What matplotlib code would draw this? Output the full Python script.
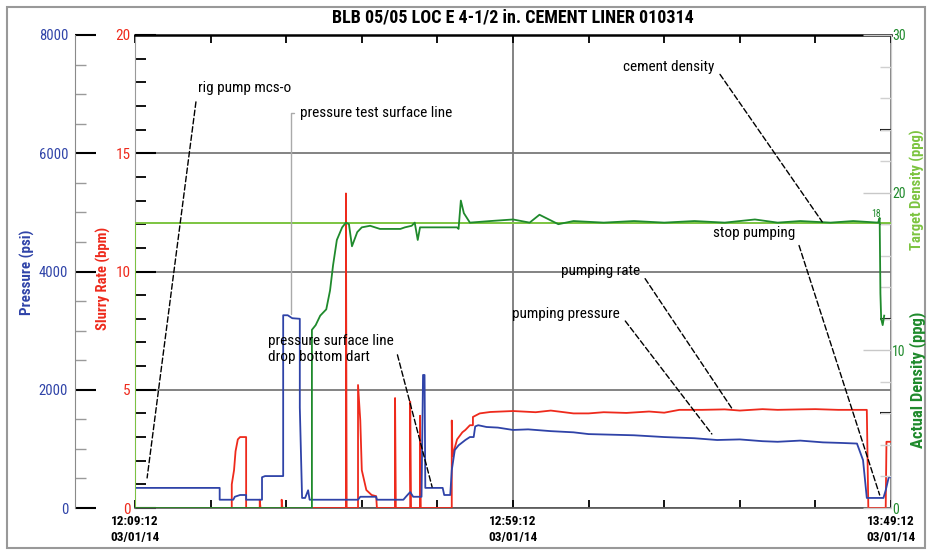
import matplotlib
matplotlib.use("Agg")
import matplotlib.pyplot as plt
from matplotlib import font_manager
from matplotlib.patches import Rectangle

# pick a narrow face if one is there
installed = {f.name for f in font_manager.fontManager.ttflist}
narrow = [n for n in ['Liberation Sans Narrow', 'DejaVu Sans Condensed', 'Roboto Condensed',
                      'Open Sans Condensed'] if n in installed]
plt.rcParams['font.family'] = narrow + ['Liberation Sans', 'DejaVu Sans']

# time in minutes from 12:09:12
pres_t = [0, 11.2, 11.2, 13.0, 13.2, 13.9, 14.7, 14.7, 16.8, 16.8,
          17.2, 19.6, 19.6, 20.2, 20.8, 21.8, 21.8, 22.1, 22.5, 22.9,
          23.1, 29.5, 29.8, 31.9, 32.0, 35.5, 35.9, 36.4, 36.8, 37.9,
          38.1, 38.3, 38.4, 40.7, 40.9, 41.7, 41.9, 42.3, 42.8, 43.7,
          44.3, 44.8, 45.0, 45.4, 46.5, 48.0, 50.0, 52.0, 55.0, 58.0,
          60.0, 63.0, 66.0, 70.0, 74.0, 77.0, 80.0, 83.0, 85.0, 88.0,
          91.0, 93.5, 95.5, 96.3, 96.8, 97.0, 99.0, 99.3, 99.7, 100.0]
pres = [340, 340, 140, 140, 190, 220, 220, 140, 140, 520,
        540, 540, 3260, 3260, 3210, 3200, 1700, 170, 170, 300,
        140, 140, 190, 190, 140, 140, 200, 270, 190, 190,
        2250, 2250, 340, 340, 220, 220, 640, 980, 1060, 1150,
        1200, 1200, 1380, 1400, 1370, 1360, 1320, 1330, 1300, 1280,
        1250, 1240, 1230, 1200, 1180, 1150, 1160, 1130, 1120, 1140,
        1110, 1100, 1090, 810, 170, 170, 170, 300, 520, 520]

rate_t = [0, 12.8, 12.8, 13.1, 13.3, 13.6, 13.9, 14.7, 14.7, 16.5,
          16.5, 16.6, 19.4, 19.4, 19.5, 27.9, 27.9, 28.0, 29.5, 29.5,
          29.8, 30.0, 30.6, 31.3, 31.9, 32.0, 34.4, 34.4, 34.5, 36.4,
          36.4, 36.5, 37.7, 37.7, 37.8, 41.9, 41.9, 42.0, 42.6, 43.3,
          43.7, 44.3, 44.7, 44.7, 45.6, 47.0, 50.0, 53.0, 55.0, 58.0,
          60.0, 62.0, 65.0, 68.0, 70.0, 72.0, 75.0, 78.0, 80.0, 83.0,
          85.0, 88.0, 90.0, 93.0, 96.8, 97.0, 99.3, 99.4, 100.0]
rate = [0, 0, 1.0, 1.6, 2.4, 2.9, 3.0, 3.0, 0, 0,
        0.35, 0, 0, 0.35, 0, 0, 13.3, 0, 0, 5.2,
        3.7, 1.6, 0.76, 0.55, 0.5, 0, 0, 4.65, 0, 0,
        4.5, 0, 0, 3.9, 0, 0, 3.7, 2.2, 2.9, 3.2,
        3.3, 3.5, 3.5, 3.85, 4.0, 4.06, 4.1, 4.05, 4.12, 4.0,
        4.0, 4.05, 4.02, 4.08, 4.03, 4.15, 4.15, 4.17, 4.12, 4.18,
        4.15, 4.17, 4.18, 4.15, 4.15, 0, 0, 2.8, 2.8]

dens_t = [0, 23.4, 23.4, 23.9, 24.5, 25.3, 25.8, 26.2, 26.7, 27.4,
          27.9, 28.3, 28.7, 29.4, 30.0, 31.1, 32.4, 35.1, 35.7, 36.6,
          37.0, 37.4, 37.7, 42.6, 42.8, 43.1, 43.5, 44.3, 47.0, 50.0,
          52.2, 53.5, 56.0, 58.0, 62.0, 66.0, 70.0, 74.0, 78.0, 82.0,
          85.0, 88.0, 92.0, 95.0, 98.3, 98.5, 98.6, 98.7, 98.9, 99.1]
dens = [0, 0, 11.3, 11.6, 12.2, 12.6, 13.8, 15.4, 17.0, 17.8,
        18.1, 18.0, 16.6, 17.5, 17.8, 17.9, 17.7, 17.7, 17.8, 17.9,
        18.1, 17.0, 17.8, 17.8, 17.7, 19.5, 18.7, 18.1, 18.2, 18.3,
        18.1, 18.6, 18.0, 18.2, 18.1, 18.2, 18.1, 18.2, 18.1, 18.3,
        18.1, 18.2, 18.1, 18.2, 18.1, 18.4, 13.6, 12.0, 11.6, 12.2]

targ_t = [0, 0, 100]
targ = [0, 18.1, 18.1]

time_labels = ['12:09:12\n03/01/14', '12:59:12\n03/01/14', '13:49:12\n03/01/14']

BLUE = '#2f43a8'
RED = '#ee2a1c'
LGREEN = '#7cc440'
DGREEN = '#1f8a2c'

W, H = 931, 552
fig = plt.figure(figsize=(W / 100, H / 100), dpi=100)
L, R, T, B = 135, 891, 35, 508
ax = fig.add_axes([L / W, 1 - B / H, (R - L) / W, (B - T) / H])

# slurry rate axis (main)
ax.set_xlim(0, 100)
ax.set_ylim(0, 20)
ax.set_yticks([0, 5, 10, 15, 20])
ax.set_yticks(range(0, 21), minor=True)
ax.tick_params(axis='y', which='major', direction='in', length=15, width=1.5,
               colors='black', labelcolor=RED, labelsize=11, pad=3)
ax.tick_params(axis='y', which='minor', direction='in', length=8, width=1.3, color='black')
ax.set_xticks([0, 50, 100])
ax.set_xticklabels(time_labels, linespacing=1.3)
ax.set_xticks(range(0, 101, 10), minor=True)
ax.tick_params(axis='x', which='both', direction='in', top=True, bottom=True,
               length=6, width=1.3, labelsize=9.5, pad=5)
for lab in ax.get_xticklabels():
    lab.set_fontweight('bold')
ax.grid(axis='y', which='major', color='#7a7a7a', lw=1.3)
ax.grid(axis='x', which='major', color='#7a7a7a', lw=1.3)
ax.set_axisbelow(True)
ax.spines['top'].set_linewidth(1.8)
ax.spines['bottom'].set_linewidth(1.2)
ax.spines['bottom'].set_color('#555555')
ax.spines['left'].set_color('#999999')
ax.spines['right'].set_color('#cccccc')
ax.plot(rate_t, rate, color=RED, lw=1.3, zorder=4)

# pressure axis, offset on the left
axp = ax.twinx()
axp.set_ylim(0, 8000)
axp.yaxis.set_ticks_position('left')
axp.spines['left'].set_position(('axes', -60 / (R - L)))
axp.spines['left'].set_visible(True)
axp.spines['left'].set_color('#8a8a8a')
for s in ['right', 'top', 'bottom']:
    axp.spines[s].set_visible(False)
axp.set_yticks(range(0, 8001, 2000))
axp.set_yticks(range(0, 8001, 500), minor=True)
axp.tick_params(axis='y', which='major', direction='in', length=15, width=1.5,
                colors='black', labelcolor=BLUE, labelsize=10.5, pad=5)
axp.tick_params(axis='y', which='minor', direction='in', length=8, width=1.0, color='#9a9a9a')
axp.plot(pres_t, pres, color=BLUE, lw=1.3, zorder=3)

# actual density axis (black ticks only)
axa = ax.twinx()
axa.set_ylim(0, 30)
for s in ['left', 'top', 'bottom', 'right']:
    axa.spines[s].set_visible(False)
axa.set_yticks([6, 12, 18, 24])
axa.tick_params(axis='y', direction='in', length=8, width=1.5, color='black', labelright=False)

# target density axis (right)
axd = ax.twinx()
axd.set_ylim(0, 30)
for s in ['left', 'top', 'bottom']:
    axd.spines[s].set_visible(False)
axd.spines['right'].set_color('#cccccc')
axd.set_yticks([0, 10, 20, 30])
axd.set_yticks(range(0, 31, 2), minor=True)
axd.tick_params(axis='y', which='major', direction='in', length=20, width=1.0,
                color='#c8c8c8', labelcolor=DGREEN, labelsize=10, pad=1)
axd.tick_params(axis='y', which='minor', direction='in', length=8, width=1.0, color='#d0d0d0')
axd.plot(targ_t, targ, color=LGREEN, lw=1.4, zorder=2)
axd.plot(dens_t, dens, color=DGREEN, lw=1.3, zorder=3)
axd.text(98.0, 18.3, '18', color=DGREEN, fontsize=7, ha='center', va='bottom')

# annotations (coordinates in rate units)
lead = dict(arrowstyle='-', color='black', lw=1.0, linestyle=(0, (4, 2)),
            shrinkA=3, shrinkB=0)
tk = dict(fontsize=11, color='black')
axd.annotate('rig pump mcs-o', xy=(1.6, 1.27), xytext=(8.3, 17.76),
             xycoords=ax.transData, textcoords=ax.transData, ha='left', va='center',
             arrowprops=dict(lead, relpos=(0, 0.5)), **tk)
axd.annotate('pressure test surface line', xy=(20.6, 8.2), xytext=(21.8, 16.7),
             xycoords=ax.transData, textcoords=ax.transData, ha='left', va='center',
             arrowprops=dict(arrowstyle='-', color='#aaaaaa', lw=1.0, shrinkA=2, shrinkB=0,
                             relpos=(0, 0.5), connectionstyle='angle,angleA=0,angleB=90,rad=0'),
             **tk)
axd.annotate('cement density', xy=(90.9, 12.1), xytext=(76.7, 18.65),
             xycoords=ax.transData, textcoords=ax.transData, ha='right', va='center',
             arrowprops=dict(lead, relpos=(1, 0.5)), **tk)
axd.annotate('stop pumping', xy=(98.5, 0.55), xytext=(87.3, 11.63),
             xycoords=ax.transData, textcoords=ax.transData, ha='right', va='center',
             arrowprops=dict(lead, relpos=(1, 0.5)), **tk)
axd.annotate('pumping rate', xy=(79.1, 4.14), xytext=(66.8, 10.02),
             xycoords=ax.transData, textcoords=ax.transData, ha='right', va='center',
             arrowprops=dict(lead, relpos=(1, 0.5)), **tk)
axd.annotate('pumping pressure', xy=(76.3, 3.13), xytext=(64.15, 8.2),
             xycoords=ax.transData, textcoords=ax.transData, ha='right', va='center',
             arrowprops=dict(lead, relpos=(1, 0.5)), **tk)
axd.annotate('pressure surface line', xy=(39.3, 0.89), xytext=(17.6, 7.06),
             xycoords=ax.transData, textcoords=ax.transData, ha='left', va='center',
             arrowprops=dict(lead, relpos=(1, 0.5)), **tk)
axd.text(17.6, 6.38, 'drop bottom dart', transform=ax.transData, ha='left', va='center', **tk)

# axis titles
fig.text(27 / W, 1 - 272 / H, 'Pressure (psi)', rotation=90, color=BLUE, fontsize=10.8,
         fontweight='bold', ha='center', va='center')
fig.text(103 / W, 1 - 278 / H, 'Slurry Rate (bpm)', rotation=90, color=RED, fontsize=10.5,
         fontweight='bold', ha='center', va='center')
fig.text(917 / W, 1 - 190 / H, 'Target Density (ppg)', rotation=90, color=LGREEN, fontsize=10.5,
         fontweight='bold', ha='center', va='center')
fig.text(918 / W, 1 - 380 / H, 'Actual Density (ppg)', rotation=90, color=DGREEN, fontsize=12,
         fontweight='bold', ha='center', va='center')
fig.text(513 / W, 1 - 17 / H, 'BLB 05/05 LOC E 4-1/2 in. CEMENT LINER 010314',
         fontsize=13, fontweight='bold', ha='center', va='center')

fig.patches.append(Rectangle((7 / W, 1 - 548 / H), 918 / W, 541 / H, transform=fig.transFigure,
                             fill=False, edgecolor='#999999', lw=1.5))

fig.savefig('out.png', dpi=100)
